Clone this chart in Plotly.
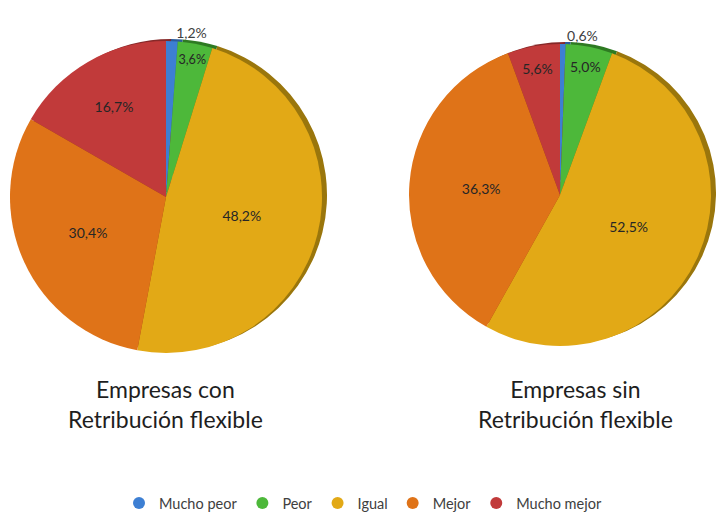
import plotly.graph_objects as go

categories = ["Mucho peor", "Peor", "Igual", "Mejor", "Mucho mejor"]
con_values = [1.2, 3.6, 48.2, 30.4, 16.7]
sin_values = [0.6, 5.0, 52.5, 36.3, 5.6]
titles = ["Empresas con<br>Retribución flexible", "Empresas sin<br>Retribución flexible"]

colors = ["#3D7FD3", "#4DB83A", "#E2A916", "#DF7318", "#C13A3A"]
shadow_colors = ["#2A5C9A", "#2E7A22", "#9A760C", "#9A500F", "#862828"]

W, H = 716, 512
FONT = "Lato, 'Open Sans', sans-serif"

def px_dom(x0, x1, y0, y1, dx=0, dy=0):
    return dict(x=[max(0, (x0 + dx) / W), min(1, (x1 + dx) / W)],
                y=[max(0, 1 - (y1 + dy) / H), min(1, 1 - (y0 + dy) / H)])

fig = go.Figure()

pies = [
    (con_values, (10, 322, 41, 353)),
    (sin_values, (409, 711, 44, 346)),
]

for vals, (x0, x1, y0, y1) in pies:
    fig.add_trace(go.Pie(
        labels=categories, values=vals, sort=False, direction="clockwise", rotation=0,
        domain=px_dom(x0, x1, y0, y1, dx=5, dy=-2),
        marker=dict(colors=shadow_colors, line=dict(width=0)),
        textinfo="none", hoverinfo="skip", showlegend=False,
    ))
    pos = ["outside" if v < 2 else "inside" for v in vals]
    fig.add_trace(go.Pie(
        labels=categories, values=vals, sort=False, direction="clockwise", rotation=0,
        domain=px_dom(x0, x1, y0, y1),
        marker=dict(colors=colors, line=dict(width=0)),
        texttemplate="%{value:.1f}%", textposition=pos,
        insidetextorientation="horizontal",
        textfont=dict(family=FONT, size=14, color="#262626"),
        outsidetextfont=dict(family=FONT, size=14, color="#404040"),
        showlegend=False,
    ))

for c, col in zip(categories, colors):
    fig.add_trace(go.Scatter(x=[None], y=[None], mode="markers", name=c,
                             marker=dict(symbol="circle", size=12, color=col)))

for tx, cx in zip(titles, [165, 575]):
    fig.add_annotation(x=cx / W, y=1 - 404 / H, xref="paper", yref="paper", text=tx,
                       showarrow=False, font=dict(family=FONT, size=23, color="#1e1e1e"),
                       xanchor="center", yanchor="middle")

fig.update_layout(
    width=W, height=H,
    margin=dict(l=0, r=0, t=0, b=0, autoexpand=False),
    paper_bgcolor="white", plot_bgcolor="white",
    separators=",.",
    xaxis=dict(visible=False), yaxis=dict(visible=False),
    legend=dict(orientation="h", x=0.507, xanchor="center", y=1 - 503 / H, yanchor="middle",
                font=dict(family=FONT, size=14.5, color="#404040"),
                itemwidth=30, tracegroupgap=0),
    font=dict(family=FONT),
)

fig.write_html("out.html", config={"displayModeBar": False},
               post_script="document.body.style.margin='0';document.body.style.overflow='hidden';")
